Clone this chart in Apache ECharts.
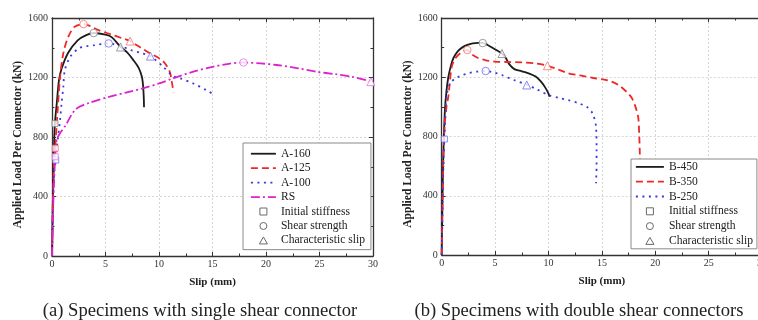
<!DOCTYPE html>
<html><head><meta charset="utf-8">
<script src="https://cdn.jsdelivr.net/npm/echarts@6/dist/echarts.min.js"></script>
<style>html,body{margin:0;padding:0;background:#fff}#c{width:758px;height:320px}</style>
</head><body><div id="c"></div>
<script>
// ---------- data (slip in mm, load in kN) ----------
const a160Slip = [0, 0.05, 0.12, 0.2, 0.28, 0.45, 0.65, 0.9, 1.5, 2.4, 3.2, 3.9, 5.0, 5.6, 6.4, 7.0, 7.6, 8.1, 8.4, 8.52, 8.58, 8.6];
const a160Load = [0, 250, 520, 760, 900, 1030, 1180, 1260, 1365, 1450, 1485, 1499, 1488, 1470, 1407, 1370, 1317, 1265, 1205, 1138, 1060, 1000];
const a125Slip = [0, 0.05, 0.12, 0.2, 0.3, 0.5, 0.75, 1.05, 1.5, 2.1, 2.95, 3.6, 4.3, 5.5, 6.5, 7.3, 8.3, 9.2, 9.9, 10.5, 11.0, 11.2, 11.35];
const a125Load = [0, 250, 480, 640, 730, 950, 1200, 1360, 1470, 1540, 1559, 1545, 1520, 1490, 1465, 1445, 1400, 1360, 1335, 1300, 1240, 1170, 1100];
const a100Slip = [0, 0.05, 0.12, 0.2, 0.35, 0.5, 0.75, 0.9, 1.06, 1.2, 1.7, 2.5, 3.2, 4.0, 5.3, 6.3, 7.4, 8.3, 9.2, 10.4, 11.3, 12.0, 13.2, 14.4, 15.1];
const a100Load = [0, 200, 420, 560, 645, 760, 914, 1028, 1138, 1250, 1339, 1396, 1410, 1418, 1429, 1415, 1384, 1365, 1344, 1272, 1210, 1194, 1160, 1116, 1087];
const rsSlip = [0, 0.08, 0.18, 0.3, 0.44, 0.75, 1.2, 2.2, 3.5, 5.4, 7.0, 8.5, 10.0, 11.3, 13.0, 15.0, 16.5, 17.9, 19.5, 21.0, 23.0, 24.7, 26.5, 28.0, 30.0];
const rsLoad = [0, 250, 480, 667, 780, 826, 870, 985, 1030, 1071, 1100, 1127, 1160, 1194, 1235, 1272, 1292, 1301, 1295, 1284, 1262, 1239, 1222, 1205, 1171];

const b450Slip = [0, 0.05, 0.1, 0.18, 0.3, 0.45, 0.62, 0.85, 1.1, 1.5, 1.9, 2.4, 2.9, 3.4, 3.84, 4.3, 4.9, 5.65, 6.0, 6.3, 6.8, 7.5, 8.2, 8.8, 9.3, 9.7, 10.0, 10.1];
const b450Load = [0, 250, 500, 750, 979, 1110, 1200, 1275, 1330, 1375, 1400, 1418, 1428, 1432, 1432, 1418, 1393, 1360, 1330, 1290, 1255, 1240, 1225, 1205, 1170, 1130, 1090, 1069];
const b350Slip = [0, 0.05, 0.1, 0.18, 0.3, 0.45, 0.62, 0.94, 1.3, 1.8, 2.4, 2.8, 3.4, 4.05, 5.0, 6.0, 7.5, 8.7, 9.9, 11.0, 11.85, 12.95, 14.2, 15.45, 16.5, 17.3, 17.8, 18.1, 18.4, 18.5, 18.55, 18.6];
const b350Load = [0, 230, 450, 700, 900, 1000, 1069, 1271, 1330, 1365, 1384, 1355, 1330, 1316, 1305, 1303, 1300, 1294, 1278, 1250, 1227, 1212, 1195, 1181, 1150, 1102, 1060, 1010, 930, 800, 687, 550];
const b250Slip = [0, 0.05, 0.1, 0.18, 0.25, 0.35, 0.47, 0.8, 1.25, 1.8, 2.49, 3.3, 4.12, 4.9, 5.62, 6.8, 7.96, 9.0, 9.98, 11.0, 11.85, 12.8, 13.57, 14.0, 14.2, 14.45, 14.5, 14.5, 14.45];
const b250Load = [0, 200, 420, 650, 783, 950, 1080, 1160, 1190, 1210, 1227, 1238, 1242, 1232, 1215, 1180, 1150, 1115, 1080, 1060, 1046, 1025, 1001, 970, 945, 866, 709, 600, 484];

// characteristic points, in the order of the curves
const leftCurves = ['A-160', 'A-125', 'A-100', 'RS'];
const leftInitSlip = [0.28, 0.3, 0.35, 0.3];
const leftInitLoad = [890, 724, 645, 667];
const leftPeakSlip = [3.9, 2.95, 5.3, 17.9];
const leftPeakLoad = [1499, 1559, 1429, 1301];
const leftCharSlip = [6.4, 7.3, 9.2, 29.8];
const leftCharLoad = [1405, 1445, 1344, 1172];

const rightCurves = ['B-450', 'B-350', 'B-250'];
const rightInitSlip = [null, null, 0.25];
const rightInitLoad = [null, null, 783];
const rightPeakSlip = [3.84, 2.4, 4.12];
const rightPeakLoad = [1431, 1384, 1242];
const rightCharSlip = [5.65, 9.9, 7.96];
const rightCharLoad = [1360, 1278, 1148];

const markerNames = ['Initial stiffness', 'Shear strength', 'Characteristic slip'];
const xTicks = {min: 0, max: 30, interval: 5};
const yTicks = {min: 0, max: 1600, interval: 400};
const captions = ['(a) Specimens with single shear connector', '(b) Specimens with double shear connectors'];
const xName = 'Slip (mm)';
const yName = 'Applied Load Per Connector (kN)';

// ---------- styles ----------
const SERIF = "'Liberation Serif','Times New Roman',serif";
const STY = {
  'A-160': {color: '#1c1c1c', mark: '#858585', type: 'solid'},
  'A-125': {color: '#ee2828', mark: '#f07878', type: [7, 4]},
  'A-100': {color: '#3838dd', mark: '#6f6fee', type: [2, 4.5]},
  'RS':    {color: '#dd22cc', mark: '#e478e0', type: [9, 3, 2, 3]},
  'B-450': {color: '#1c1c1c', mark: '#858585', type: 'solid'},
  'B-350': {color: '#ee2828', mark: '#f07878', type: [7, 4]},
  'B-250': {color: '#3838dd', mark: '#6f6fee', type: [2, 4.5]}
};
const SYM = {'Initial stiffness': 'rect', 'Shear strength': 'circle', 'Characteristic slip': 'triangle'};
const LEGICON = {
  'Initial stiffness': 'path://M0,0H10V10H0Z',
  'Shear strength': 'circle',
  'Characteristic slip': 'path://M5,0L10.5,9.5L-0.5,9.5Z'
};
const SYMSIZE = {'Initial stiffness': 6, 'Shear strength': 7.5, 'Characteristic slip': 8};

function zip(xs, ys) { return xs.map((x, i) => [x, ys[i]]); }

const AX = '#333';
function xAxis(gi, top) {
  const a = {
    type: 'value', gridIndex: gi, min: xTicks.min, max: xTicks.max, interval: xTicks.interval,
    position: top ? 'top' : 'bottom',
    axisLine: {onZero: false, lineStyle: {color: AX, width: 1.3}},
    axisTick: {inside: true, length: 4, lineStyle: {color: AX, width: 1}},
    minorTick: {show: true, splitNumber: 2, length: 2.5, lineStyle: {color: AX, width: 1}},
    axisLabel: {show: !top, fontFamily: SERIF, fontSize: 10, color: '#333', margin: 3,
                formatter: v => String(v)},
    splitLine: {show: !top, lineStyle: {color: '#cccccc', type: [2, 2], width: 0.8}}
  };
  if (!top) {
    a.name = xName; a.nameLocation = 'middle'; a.nameGap = 21;
    a.nameTextStyle = {fontFamily: SERIF, fontWeight: 'bold', fontSize: 11, color: '#222'};
  }
  return a;
}
function yAxis(gi, right) {
  const a = {
    type: 'value', gridIndex: gi, min: yTicks.min, max: yTicks.max, interval: yTicks.interval,
    position: right ? 'right' : 'left',
    axisLine: {onZero: false, lineStyle: {color: AX, width: 1.3}},
    axisTick: {inside: true, length: 4, lineStyle: {color: AX, width: 1}},
    minorTick: {show: true, splitNumber: 2, length: 2.5, lineStyle: {color: AX, width: 1}},
    axisLabel: {show: !right, fontFamily: SERIF, fontSize: 10, color: '#333', margin: 4,
                formatter: v => String(v)},
    splitLine: {show: !right, lineStyle: {color: '#cccccc', type: [2, 2], width: 0.8}}
  };
  if (!right) {
    a.name = yName; a.nameLocation = 'middle'; a.nameGap = 28;
    a.nameTextStyle = {fontFamily: SERIF, fontWeight: 'bold', fontSize: 11.5, color: '#222', padding: [0, 15, 0, 0]};
  }
  return a;
}

function lineSeries(name, slip, load, ax) {
  const s = STY[name];
  return {
    type: 'line', name: name, data: zip(slip, load), xAxisIndex: ax, yAxisIndex: ax,
    symbol: 'none', showSymbol: false, smooth: 0.3, z: 2,
    lineStyle: {color: s.color, width: 1.8, type: s.type}, itemStyle: {color: s.color}
  };
}
function markerSeries(mname, curves, xs, ys, ax) {
  const data = [];
  curves.forEach((c, i) => {
    if (xs[i] == null) return;
    data.push({value: [xs[i], ys[i]], itemStyle: {borderColor: STY[c].mark}});
  });
  return {
    type: 'scatter', name: mname, data: data, xAxisIndex: ax, yAxisIndex: ax,
    symbol: SYM[mname], symbolSize: SYMSIZE[mname], z: 4,
    itemStyle: {color: '#fff', borderColor: '#777', borderWidth: 1}
  };
}

function legendData(curves) {
  const d = curves.map(c => ({
    name: c, itemStyle: {opacity: 0},
    lineStyle: {color: STY[c].color, width: 1.8, type: STY[c].type, opacity: 1}
  }));
  markerNames.forEach(m => d.push({
    name: m, icon: LEGICON[m],
    itemStyle: {color: '#fff', borderColor: '#6a6a6a', borderWidth: 1, opacity: 1}
  }));
  return d;
}
function legend(left, top, pad, iw, lh, curves) {
  return {
    orient: 'vertical', left: left, top: top, padding: pad, itemGap: 0,
    itemWidth: iw, itemHeight: 7, selectedMode: false, symbolKeepAspect: true,
    backgroundColor: '#fff', borderColor: '#8a8a8a', borderWidth: 1, borderRadius: 0,
    textStyle: {fontFamily: SERIF, fontSize: 11.6, color: '#222', lineHeight: lh},
    data: legendData(curves), z: 10
  };
}

const series = [
  lineSeries('A-160', a160Slip, a160Load, 0),
  lineSeries('A-125', a125Slip, a125Load, 0),
  lineSeries('A-100', a100Slip, a100Load, 0),
  lineSeries('RS', rsSlip, rsLoad, 0),
  markerSeries(markerNames[0], leftCurves, leftInitSlip, leftInitLoad, 0),
  markerSeries(markerNames[1], leftCurves, leftPeakSlip, leftPeakLoad, 0),
  markerSeries(markerNames[2], leftCurves, leftCharSlip, leftCharLoad, 0),
  lineSeries('B-450', b450Slip, b450Load, 2),
  lineSeries('B-350', b350Slip, b350Load, 2),
  lineSeries('B-250', b250Slip, b250Load, 2),
  markerSeries(markerNames[0], rightCurves, rightInitSlip, rightInitLoad, 2),
  markerSeries(markerNames[1], rightCurves, rightPeakSlip, rightPeakLoad, 2),
  markerSeries(markerNames[2], rightCurves, rightCharSlip, rightCharLoad, 2)
];

const chart = echarts.init(document.getElementById('c'), null, {renderer: 'canvas'});
chart.setOption({
  animation: false,
  backgroundColor: '#fff',
  title: [
    {text: captions[0], left: 200, top: 302, textAlign: 'center', padding: 0,
     textStyle: {fontFamily: SERIF, fontSize: 18.6, fontWeight: 'normal', color: '#222'}},
    {text: captions[1], left: 579, top: 302, textAlign: 'center', padding: 0,
     textStyle: {fontFamily: SERIF, fontSize: 18.6, fontWeight: 'normal', color: '#222'}}
  ],
  grid: [
    {left: 52, top: 18, width: 321, height: 238, outerBoundsMode: 'none', containLabel: false},
    {left: 441.7, top: 18, width: 320.4, height: 237, outerBoundsMode: 'none', containLabel: false}
  ],
  xAxis: [xAxis(0, false), xAxis(0, true), xAxis(1, false), xAxis(1, true)],
  yAxis: [yAxis(0, false), yAxis(0, true), yAxis(1, false), yAxis(1, true)],
  legend: [
    legend(243, 143, [3.5, 6, 2, 7], 25, 14.45, leftCurves),
    legend(631, 159, [0.5, 4, 0.5, 4], 28, 14.8, rightCurves)
  ],
  series: series
});
</script></body></html>
